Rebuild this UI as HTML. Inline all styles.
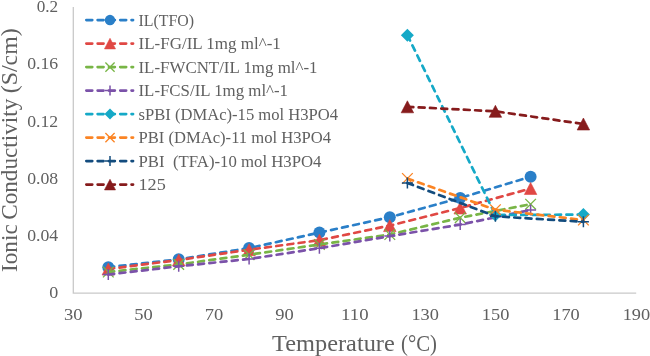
<!DOCTYPE html>
<html><head><meta charset="utf-8"><style>
html,body{margin:0;padding:0;background:#fff;width:650px;height:356px;overflow:hidden}
svg{display:block;will-change:transform}
text{font-family:"Liberation Serif",serif;fill:#606060}
.t{font-size:16.8px}
.lg{font-size:16.6px}
.ti{font-size:23.5px}
</style></head><body>
<svg width="650" height="356" viewBox="0 0 650 356">
<rect width="650" height="356" fill="#fff"/>
<path d="M73.3 7V293.2H636.2" stroke="#c9c9c9" stroke-width="1.3" fill="none"/>
<text x="58.2" y="298.2" text-anchor="end" class="t" textLength="9" lengthAdjust="spacingAndGlyphs">0</text>
<text x="58.2" y="241.0" text-anchor="end" class="t" textLength="31" lengthAdjust="spacingAndGlyphs">0.04</text>
<text x="58.2" y="183.8" text-anchor="end" class="t" textLength="31" lengthAdjust="spacingAndGlyphs">0.08</text>
<text x="58.2" y="126.6" text-anchor="end" class="t" textLength="31" lengthAdjust="spacingAndGlyphs">0.12</text>
<text x="58.2" y="69.4" text-anchor="end" class="t" textLength="31" lengthAdjust="spacingAndGlyphs">0.16</text>
<text x="58.2" y="12.2" text-anchor="end" class="t" textLength="21.5" lengthAdjust="spacingAndGlyphs">0.2</text>
<text x="73.2" y="320.4" text-anchor="middle" class="t" textLength="18.5" lengthAdjust="spacingAndGlyphs">30</text>
<text x="143.6" y="320.4" text-anchor="middle" class="t" textLength="18.5" lengthAdjust="spacingAndGlyphs">50</text>
<text x="214.0" y="320.4" text-anchor="middle" class="t" textLength="18.5" lengthAdjust="spacingAndGlyphs">70</text>
<text x="284.4" y="320.4" text-anchor="middle" class="t" textLength="18.5" lengthAdjust="spacingAndGlyphs">90</text>
<text x="354.8" y="320.4" text-anchor="middle" class="t" textLength="27.5" lengthAdjust="spacingAndGlyphs">110</text>
<text x="425.2" y="320.4" text-anchor="middle" class="t" textLength="27.5" lengthAdjust="spacingAndGlyphs">130</text>
<text x="495.6" y="320.4" text-anchor="middle" class="t" textLength="27.5" lengthAdjust="spacingAndGlyphs">150</text>
<text x="566.0" y="320.4" text-anchor="middle" class="t" textLength="27.5" lengthAdjust="spacingAndGlyphs">170</text>
<text x="636.4" y="320.4" text-anchor="middle" class="t" textLength="27.5" lengthAdjust="spacingAndGlyphs">190</text>
<text x="272.1" y="350.5" class="ti" textLength="122.7" lengthAdjust="spacingAndGlyphs">Temperature</text>
<text x="401.0" y="350.5" class="ti" textLength="35.9" lengthAdjust="spacingAndGlyphs">(°C)</text>
<text transform="translate(16.7 272.0) rotate(-90)" class="ti" textLength="47.7" lengthAdjust="spacingAndGlyphs">Ionic</text>
<text transform="translate(16.7 219.8) rotate(-90)" class="ti" textLength="121.1" lengthAdjust="spacingAndGlyphs">Conductivity</text>
<text transform="translate(16.7 93.2) rotate(-90)" class="ti" textLength="64.9" lengthAdjust="spacingAndGlyphs">(S/cm)</text>
<path d="M108.3 267.2 L178.7 259.3 L249.1 248.1 L319.4 232.6 L389.8 217.2 L460.2 198 L530.6 176.7" stroke="#2a7fc8" stroke-width="2.7" stroke-dasharray="5.9 5.4" stroke-linecap="round" fill="none"/>
<circle cx="108.3" cy="267.2" r="6.0" fill="#2a7fc8"/>
<circle cx="178.7" cy="259.3" r="6.0" fill="#2a7fc8"/>
<circle cx="249.1" cy="248.1" r="6.0" fill="#2a7fc8"/>
<circle cx="319.4" cy="232.6" r="6.0" fill="#2a7fc8"/>
<circle cx="389.8" cy="217.2" r="6.0" fill="#2a7fc8"/>
<circle cx="460.2" cy="198" r="6.0" fill="#2a7fc8"/>
<circle cx="530.6" cy="176.7" r="6.0" fill="#2a7fc8"/>
<path d="M108.3 269 L178.7 260 L249.1 249.7 L319.4 240.2 L389.8 225.6 L460.2 208 L530.6 188.5" stroke="#e04844" stroke-width="2.7" stroke-dasharray="5.9 5.4" stroke-linecap="round" fill="none"/>
<path d="M108.3 263.0L114.53999999999999 275.0L102.06 275.0Z" fill="#e04844" stroke="#e04844" stroke-width="0.6" stroke-linejoin="round"/>
<path d="M178.7 254.0L184.94 266.0L172.45999999999998 266.0Z" fill="#e04844" stroke="#e04844" stroke-width="0.6" stroke-linejoin="round"/>
<path d="M249.1 243.7L255.34 255.7L242.85999999999999 255.7Z" fill="#e04844" stroke="#e04844" stroke-width="0.6" stroke-linejoin="round"/>
<path d="M319.4 234.2L325.64 246.2L313.15999999999997 246.2Z" fill="#e04844" stroke="#e04844" stroke-width="0.6" stroke-linejoin="round"/>
<path d="M389.8 219.6L396.04 231.6L383.56 231.6Z" fill="#e04844" stroke="#e04844" stroke-width="0.6" stroke-linejoin="round"/>
<path d="M460.2 202.0L466.44 214.0L453.96 214.0Z" fill="#e04844" stroke="#e04844" stroke-width="0.6" stroke-linejoin="round"/>
<path d="M530.6 182.5L536.84 194.5L524.36 194.5Z" fill="#e04844" stroke="#e04844" stroke-width="0.6" stroke-linejoin="round"/>
<path d="M108.3 272 L178.7 264.4 L249.1 254.7 L319.4 244.5 L389.8 234.5 L460.2 217.7 L530.6 204.2" stroke="#78b546" stroke-width="2.7" stroke-dasharray="5.9 5.4" stroke-linecap="round" fill="none"/>
<path d="M102.964 266.664L113.636 277.336M113.636 266.664L102.964 277.336" stroke="#78b546" stroke-width="1.3" fill="none"/>
<path d="M173.36399999999998 259.06399999999996L184.036 269.736M184.036 259.06399999999996L173.36399999999998 269.736" stroke="#78b546" stroke-width="1.3" fill="none"/>
<path d="M243.76399999999998 249.36399999999998L254.436 260.036M254.436 249.36399999999998L243.76399999999998 260.036" stroke="#78b546" stroke-width="1.3" fill="none"/>
<path d="M314.06399999999996 239.164L324.736 249.836M324.736 239.164L314.06399999999996 249.836" stroke="#78b546" stroke-width="1.3" fill="none"/>
<path d="M384.464 229.164L395.136 239.836M395.136 229.164L384.464 239.836" stroke="#78b546" stroke-width="1.3" fill="none"/>
<path d="M454.864 212.36399999999998L465.536 223.036M465.536 212.36399999999998L454.864 223.036" stroke="#78b546" stroke-width="1.3" fill="none"/>
<path d="M525.264 198.86399999999998L535.936 209.536M535.936 198.86399999999998L525.264 209.536" stroke="#78b546" stroke-width="1.3" fill="none"/>
<path d="M108.3 274.5 L178.7 266.3 L249.1 259 L319.4 248.2 L389.8 236.1 L460.2 224.6 L530.6 210" stroke="#7b52a9" stroke-width="2.7" stroke-dasharray="5.9 5.4" stroke-linecap="round" fill="none"/>
<path d="M108.3 269.0L108.3 280.0M102.8 274.5L113.8 274.5" stroke="#7b52a9" stroke-width="1.5" fill="none"/>
<path d="M178.7 260.8L178.7 271.8M173.2 266.3L184.2 266.3" stroke="#7b52a9" stroke-width="1.5" fill="none"/>
<path d="M249.1 253.5L249.1 264.5M243.6 259L254.6 259" stroke="#7b52a9" stroke-width="1.5" fill="none"/>
<path d="M319.4 242.7L319.4 253.7M313.9 248.2L324.9 248.2" stroke="#7b52a9" stroke-width="1.5" fill="none"/>
<path d="M389.8 230.6L389.8 241.6M384.3 236.1L395.3 236.1" stroke="#7b52a9" stroke-width="1.5" fill="none"/>
<path d="M460.2 219.1L460.2 230.1M454.7 224.6L465.7 224.6" stroke="#7b52a9" stroke-width="1.5" fill="none"/>
<path d="M530.6 204.5L530.6 215.5M525.1 210L536.1 210" stroke="#7b52a9" stroke-width="1.5" fill="none"/>
<path d="M407.4 35.2 L495.4 215 L583.4 214.6" stroke="#15a9c7" stroke-width="2.7" stroke-dasharray="5.9 5.4" stroke-linecap="round" fill="none"/>
<path d="M407.4 28.700000000000003L413.9 35.2L407.4 41.7L400.9 35.2Z" fill="#15a9c7"/>
<path d="M495.4 208.5L501.9 215L495.4 221.5L488.9 215Z" fill="#15a9c7"/>
<path d="M583.4 208.1L589.9 214.6L583.4 221.1L576.9 214.6Z" fill="#15a9c7"/>
<path d="M407.4 178.5 L495.4 209.7 L583.4 220" stroke="#fb8424" stroke-width="2.7" stroke-dasharray="5.9 5.4" stroke-linecap="round" fill="none"/>
<path d="M402.06399999999996 173.164L412.736 183.836M412.736 173.164L402.06399999999996 183.836" stroke="#fb8424" stroke-width="1.3" fill="none"/>
<path d="M490.06399999999996 204.36399999999998L500.736 215.036M500.736 204.36399999999998L490.06399999999996 215.036" stroke="#fb8424" stroke-width="1.3" fill="none"/>
<path d="M578.064 214.664L588.736 225.336M588.736 214.664L578.064 225.336" stroke="#fb8424" stroke-width="1.3" fill="none"/>
<path d="M407.4 183 L495.4 216.3 L583.4 221.8" stroke="#134c7e" stroke-width="2.7" stroke-dasharray="5.9 5.4" stroke-linecap="round" fill="none"/>
<path d="M407.4 177.5L407.4 188.5M401.9 183L412.9 183" stroke="#134c7e" stroke-width="1.5" fill="none"/>
<path d="M495.4 210.8L495.4 221.8M489.9 216.3L500.9 216.3" stroke="#134c7e" stroke-width="1.5" fill="none"/>
<path d="M583.4 216.3L583.4 227.3M577.9 221.8L588.9 221.8" stroke="#134c7e" stroke-width="1.5" fill="none"/>
<path d="M407.4 106.8 L495.4 111.3 L583.4 124" stroke="#861b1c" stroke-width="2.7" stroke-dasharray="5.9 5.4" stroke-linecap="round" fill="none"/>
<path d="M407.4 100.8L413.64 112.8L401.15999999999997 112.8Z" fill="#861b1c" stroke="#861b1c" stroke-width="0.6" stroke-linejoin="round"/>
<path d="M495.4 105.3L501.64 117.3L489.15999999999997 117.3Z" fill="#861b1c" stroke="#861b1c" stroke-width="0.6" stroke-linejoin="round"/>
<path d="M583.4 118.0L589.64 130.0L577.16 130.0Z" fill="#861b1c" stroke="#861b1c" stroke-width="0.6" stroke-linejoin="round"/>
<path d="M86.35 20.1H133.05" stroke="#2a7fc8" stroke-width="2.7" stroke-dasharray="5.9 5.4" stroke-linecap="round" fill="none"/>
<circle cx="110" cy="20.1" r="5.25" fill="#2a7fc8"/>
<text x="138.5" y="25.9" class="lg" textLength="55.6" lengthAdjust="spacingAndGlyphs">IL(TFO)</text>
<path d="M86.35 43.6H133.05" stroke="#e04844" stroke-width="2.7" stroke-dasharray="5.9 5.4" stroke-linecap="round" fill="none"/>
<path d="M110 38.300000000000004L115.512 48.9L104.488 48.9Z" fill="#e04844" stroke="#e04844" stroke-width="0.6" stroke-linejoin="round"/>
<text x="138.5" y="49.4" class="lg" textLength="142.3" lengthAdjust="spacingAndGlyphs">IL-FG/IL 1mg ml^-1</text>
<path d="M86.35 67.1H133.05" stroke="#78b546" stroke-width="2.7" stroke-dasharray="5.9 5.4" stroke-linecap="round" fill="none"/>
<path d="M105.4 62.49999999999999L114.6 71.69999999999999M114.6 62.49999999999999L105.4 71.69999999999999" stroke="#78b546" stroke-width="1.3" fill="none"/>
<text x="138.5" y="72.9" class="lg" textLength="179" lengthAdjust="spacingAndGlyphs">IL-FWCNT/IL 1mg ml^-1</text>
<path d="M86.35 90.6H133.05" stroke="#7b52a9" stroke-width="2.7" stroke-dasharray="5.9 5.4" stroke-linecap="round" fill="none"/>
<path d="M110 85.6L110 95.6M105.0 90.6L115.0 90.6" stroke="#7b52a9" stroke-width="1.5" fill="none"/>
<text x="138.5" y="96.4" class="lg" textLength="149.5" lengthAdjust="spacingAndGlyphs">IL-FCS/IL 1mg ml^-1</text>
<path d="M86.35 114.1H133.05" stroke="#15a9c7" stroke-width="2.7" stroke-dasharray="5.9 5.4" stroke-linecap="round" fill="none"/>
<path d="M110 108.6L115.5 114.1L110 119.6L104.5 114.1Z" fill="#15a9c7"/>
<text x="138.5" y="119.9" class="lg" textLength="199.6" lengthAdjust="spacingAndGlyphs">sPBI (DMAc)-15 mol H3PO4</text>
<path d="M86.35 137.6H133.05" stroke="#fb8424" stroke-width="2.7" stroke-dasharray="5.9 5.4" stroke-linecap="round" fill="none"/>
<path d="M105.4 133.0L114.6 142.2M114.6 133.0L105.4 142.2" stroke="#fb8424" stroke-width="1.3" fill="none"/>
<text x="138.5" y="143.4" class="lg" textLength="192.5" lengthAdjust="spacingAndGlyphs">PBI (DMAc)-11 mol H3PO4</text>
<path d="M86.35 161.1H133.05" stroke="#134c7e" stroke-width="2.7" stroke-dasharray="5.9 5.4" stroke-linecap="round" fill="none"/>
<path d="M110 156.1L110 166.1M105.0 161.1L115.0 161.1" stroke="#134c7e" stroke-width="1.5" fill="none"/>
<text x="138.5" y="166.9" class="lg" textLength="183" lengthAdjust="spacingAndGlyphs">PBI&#160; (TFA)-10 mol H3PO4</text>
<path d="M86.35 184.6H133.05" stroke="#861b1c" stroke-width="2.7" stroke-dasharray="5.9 5.4" stroke-linecap="round" fill="none"/>
<path d="M110 179.29999999999998L115.512 189.9L104.488 189.9Z" fill="#861b1c" stroke="#861b1c" stroke-width="0.6" stroke-linejoin="round"/>
<text x="138.5" y="190.4" class="lg" textLength="27.3" lengthAdjust="spacingAndGlyphs">125</text>
</svg>
</body></html>
